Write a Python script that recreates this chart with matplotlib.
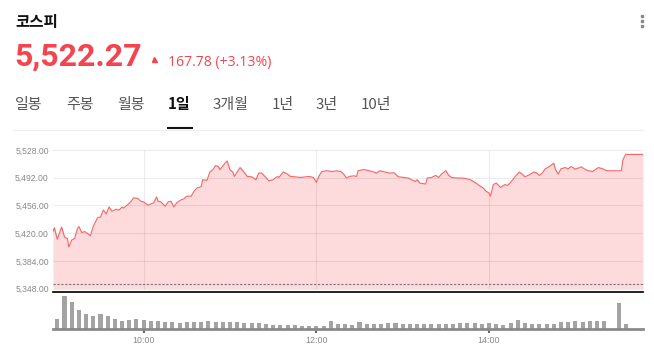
import matplotlib
matplotlib.use('Agg')
import matplotlib.pyplot as plt
from matplotlib.lines import Line2D

# 코스피 1일 차트 데이터 (분 단위, 9:00 기준)
price_min = [-3, -2, 0, 2, 3, 5, 7, 8, 10, 12, 14, 15, 17, 19, 21, 23, 25, 26, 28, 30,
             32, 34, 36, 38, 41, 43, 45, 46, 49, 51, 53, 56, 58, 60, 63, 65, 67, 69, 70, 72,
             75, 77, 79, 81, 83, 86, 88, 90, 93, 95, 97, 100,
             101, 104, 106, 108, 110, 112, 113, 116, 118, 120, 122, 123, 125, 127, 129, 132,
             135, 138, 140, 142, 145, 147, 150, 153, 154, 157, 160, 162, 165, 169, 171, 175,
             178, 180, 182, 184, 187, 191, 194,
             197, 199, 201, 203, 206, 208, 209, 213, 215, 219, 222, 224, 228, 231, 234, 237,
             241, 244, 246, 249, 250, 252, 256, 257, 260, 263, 265, 267, 270, 272, 274, 278,
             281, 284, 287, 289, 291, 294, 296, 298,
             300, 301, 303, 305, 308, 311, 313, 316, 318, 321, 323, 325, 328, 331, 333, 335,
             337, 339, 342, 345, 346, 348, 350, 353, 355, 357, 360, 362, 364, 367, 369, 372,
             374, 376, 379, 382, 392, 393, 395, 407]
price_val = [5422, 5427, 5412, 5423, 5428, 5415, 5413, 5402, 5411, 5413, 5426, 5428.5, 5420.7,
             5422, 5419.5, 5416.5, 5429, 5432.7, 5440, 5441, 5450, 5445, 5454, 5448.5, 5451,
             5450, 5454, 5452.5, 5457, 5460.6, 5465.8, 5465, 5461.4, 5460.6, 5456.3, 5458,
             5459.4, 5467, 5461.4, 5460.6, 5455, 5460.6, 5461.4, 5454, 5459.4, 5463.2, 5464.5,
             5468, 5468, 5474.3, 5478.6, 5480.4,
             5489.4, 5488.5, 5499.3, 5502.3, 5507.8, 5506.5, 5502.3, 5509.6, 5513.8, 5502.3,
             5499.3, 5493.6, 5499.3, 5505.2, 5501, 5493.6, 5493.2, 5489.4, 5498, 5498, 5492.3,
             5488, 5489.4, 5493.6, 5492.3, 5499.3, 5496.7, 5493.6, 5493.2, 5492.3, 5492.8,
             5493.6, 5492.3, 5486, 5495, 5500, 5501, 5500, 5501,
             5500, 5496.7, 5491.6, 5493.6, 5494.5, 5493.6, 5501, 5502.6, 5501.8, 5500, 5498,
             5501, 5499.3, 5498, 5498.4, 5493.2, 5492.3, 5491.6, 5489.4, 5487.2, 5489.4, 5485,
             5483.8, 5491.6, 5492.3, 5495, 5492.3, 5496.7, 5501, 5495, 5492.3, 5491.6, 5491.6,
             5490.7, 5489.4, 5487.2, 5485, 5480.8, 5478.6, 5474.3,
             5472.2, 5468, 5483, 5485, 5479.4, 5483, 5482, 5488, 5493.2, 5499.3, 5496.7, 5493.2,
             5495.8, 5499.3, 5498.4, 5495, 5498, 5503.5, 5506.5, 5510.9, 5503.5, 5496.7, 5503.5,
             5505.2, 5503.5, 5506.5, 5503.1, 5504.4, 5506.1, 5502.6, 5501, 5500, 5502.6, 5505.2,
             5503.5, 5501, 5501, 5515, 5522.27, 5522.27]
prev_close = 5354.49

# 5분봉 거래량 (9:00 ~ 15:20), 동시호가
vol_regular = [31, 98, 81, 58, 44, 38, 44, 38, 30, 25, 28, 31, 28, 25, 25, 22, 22, 18, 22, 20,
               22, 25, 22, 22, 22, 20, 17, 17, 17, 14, 13, 13, 11, 11, 10, 10, 10, 10, 25, 14,
               14, 12, 21, 16, 16, 14, 18, 18, 15, 15, 16, 14, 16, 16, 16, 16, 17, 19, 19, 15,
               17, 16, 13, 19, 28, 19, 16, 16, 16, 16, 21, 22, 24, 20, 24, 24, 25]
vol_close_min = [390, 395]
vol_close = [78, 14]

y_ticks = [5348, 5384, 5420, 5456, 5492, 5528]
x_ticks = [60, 180, 300]
x_labels = ['10:00', '12:00', '14:00']
tabs = ['일봉', '주봉', '월봉', '1일', '3개월', '1년', '3년', '10년']
tab_x = [15, 66, 117, 168, 213, 272, 316, 361]

RED = '#f3444f'
W, H = 654, 346

fig = plt.figure(figsize=(W / 100, H / 100), dpi=100)


def fx(x):
    return x / W


def fy(y):
    return 1 - y / H


def add_ax(l, t, r, b):
    return fig.add_axes([l / W, 1 - b / H, (r - l) / W, (b - t) / H])


# 가격 차트
ax = add_ax(53, 145, 643, 292)
ax.fill_between(price_min, price_val, y_ticks[0], color='#fddadc', lw=0, zorder=1)
ax.plot(price_min, price_val, color='#f46a6a', lw=0.85, zorder=3)
ax.axhline(prev_close, color='#777777', lw=0.8, ls=(0, (2, 1.5)), zorder=4)
ax.vlines(x_ticks, y_ticks[0], y_ticks[-1], color='black', alpha=0.07, lw=0.8, zorder=2)
ax.set_yticks(y_ticks)
ax.set_yticklabels([f'{v:,.2f}' for v in y_ticks], fontfamily='Liberation Sans')
ax.grid(axis='y', color='black', alpha=0.07, lw=0.8)
ax.set_axisbelow(False)
ax.set_xticks([])
ax.tick_params(axis='y', length=0, pad=3, labelsize=6.2, labelcolor='#888888')
ax.set_xlim(-3, 407)
ax.set_ylim(5343.5, 5534.5)
for s in ax.spines.values():
    s.set_visible(False)

# 거래량
axv = add_ax(53, 292, 643, 329)
axv.bar(range(0, 5 * len(vol_regular), 5), vol_regular, width=2.8, color='#a3a3a3')
axv.bar(vol_close_min, vol_close, width=2.8, color='#a3a3a3')
axv.set_xlim(-3, 407)
axv.set_ylim(0, 111)
axv.set_yticks([])
axv.set_xticks(x_ticks)
axv.set_xticklabels(x_labels, fontfamily='Liberation Sans')
axv.tick_params(axis='x', length=3, width=1.5, color='#666666', pad=2,
                labelsize=6.4, labelcolor='#888888')
for k in ['left', 'right']:
    axv.spines[k].set_visible(False)
axv.spines['top'].set_color('#111111')
axv.spines['top'].set_linewidth(1.3)
axv.spines['bottom'].set_color('#8a8a8a')
axv.spines['bottom'].set_linewidth(2)

# 헤더
fig.text(fx(15), fy(21.5), '코스피', fontfamily=['Noto Sans CJK KR'], fontweight='bold',
         fontsize=11.2, color='#111111', va='center')
fig.text(fx(14.5), fy(65.5), '5,522.27', fontfamily='Roboto', fontweight='bold',
         fontsize=23, color=RED, va='baseline')
fig.add_artist(Line2D([fx(154)], [fy(59)], marker='^', ms=3.6, color=RED, ls='none',
                      transform=fig.transFigure))
fig.text(fx(168), fy(66), '167.78 (+3.13%)', fontfamily='Open Sans', fontsize=10.1,
         color=RED, va='baseline')

for label, x in zip(tabs, tab_x):
    sel = label == '1일'
    fig.text(fx(x), fy(104.5), label, fontfamily=['Noto Sans CJK KR', 'DejaVu Sans'],
             fontsize=10.8, color='#111111' if sel else '#555555',
             fontweight='bold' if sel else 'normal', va='center')

fig.add_artist(Line2D([fx(13), fx(643)], [fy(129.5)] * 2, lw=0.8, color='#eeeeee',
                      transform=fig.transFigure))
fig.add_artist(Line2D([fx(168), fx(192)], [fy(128)] * 2, lw=1.5, color='#111111',
                      transform=fig.transFigure))
fig.add_artist(Line2D([fx(642)] * 3, [fy(16), fy(21), fy(26)], ls='none', marker='s',
                      ms=1.8, color='#888888', transform=fig.transFigure))

fig.savefig('out.png', dpi=100)
